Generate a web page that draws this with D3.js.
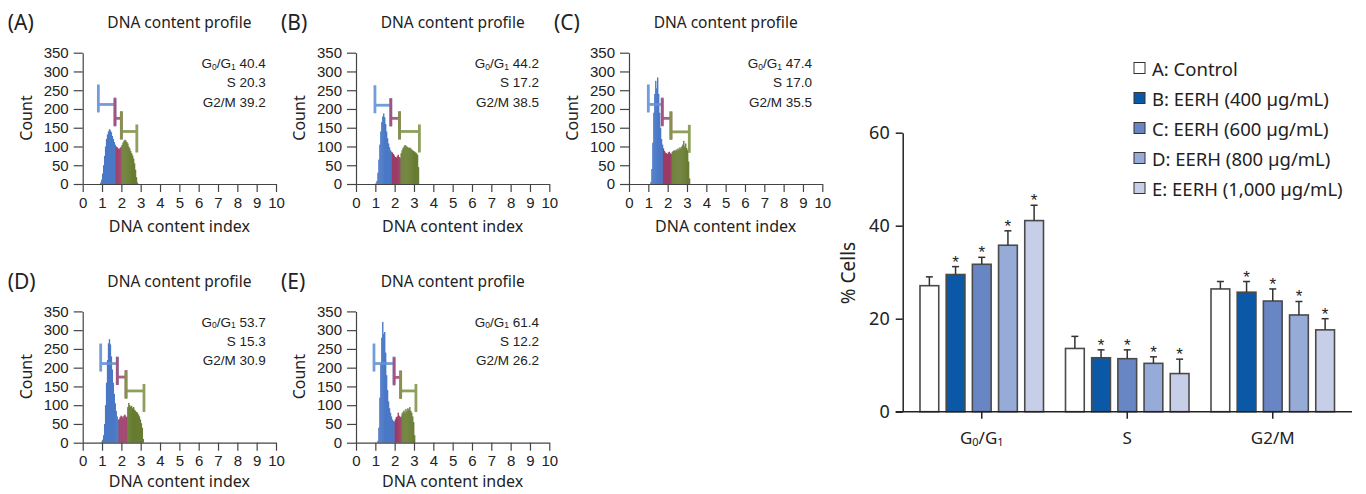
<!DOCTYPE html>
<html><head><meta charset="utf-8">
<script src="https://cdn.jsdelivr.net/npm/d3@7"></script>
<style>
html,body{margin:0;padding:0;background:#fff;}
text{fill:#222;}
</style></head>
<body><svg id="c" width="1366" height="494"></svg>
<script>
// ---------------- DATA ----------------
// Histogram panels (DNA content profile)
const panelLabels = ["(A)", "(B)", "(C)", "(D)", "(E)"];
const histStart = [0.90, 1.00, 1.10, 0.95, 1.10];   // DNA index of first bin
const binWidth = 0.05;
const countsA = [4,12,28,50,75,100,120,132,140,146,143,138,128,120,112,105,100,98,95,93,96,99,104,110,115,118,116,112,108,100,95,88,82,76,68,55,38,18,4];
const countsB = [2,8,30,65,105,140,165,180,188,178,160,140,122,108,98,90,86,84,80,76,72,70,74,78,72,70,82,90,96,100,104,102,100,98,96,97,95,92,90,88,86,84,82,78,45];
const countsC = [5,40,110,190,240,275,255,284,240,190,150,120,105,95,88,84,82,80,84,86,82,80,85,88,90,88,92,90,95,92,98,95,100,105,115,100,108,96,90,60,15];
const countsD = [3,8,20,50,100,160,220,265,276,262,230,195,160,130,105,85,70,62,62,68,72,70,66,72,75,70,68,95,106,100,96,98,92,95,88,85,82,80,75,70,62,52,40,10];
const countsE = [5,40,120,210,280,322,290,295,240,180,140,110,92,80,70,62,58,56,62,68,70,80,72,68,70,78,82,86,80,90,84,92,88,95,85,80,70,55,20];
const histCounts = [countsA, countsB, countsC, countsD, countsE];
const sPhaseStart = [1.70, 1.85, 1.75, 1.85, 2.00];   // first bin of S phase
const g2PhaseStart = [2.00, 2.30, 2.20, 2.30, 2.35];  // first bin of G2/M phase
// gate markers: [from, to, height] for G0/G1, S, G2/M
const markersG1 = [[0.81,1.67,212],[0.98,1.80,210],[1.00,1.72,212],[0.93,1.79,211],[0.93,1.97,211]];
const markersS  = [[1.67,2.00,175],[1.80,2.25,175],[1.72,2.17,175],[1.79,2.24,175],[1.97,2.31,174]];
const markersG2 = [[2.00,2.80,140],[2.25,3.28,140],[2.17,3.12,139],[2.24,3.17,138],[2.31,3.10,138]];
const statG1 = ["40.4","44.2","47.4","53.7","61.4"];
const statS  = ["20.3","17.2","17.0","15.3","12.2"];
const statG2 = ["39.2","38.5","35.5","30.9","26.2"];
const histYTicks = [0,50,100,150,200,250,300,350];
const histXTicks = [0,1,2,3,4,5,6,7,8,9,10];

// Bar chart
const categories = ["G0/G1", "S", "G2/M"];
const seriesNames = ["A: Control", "B: EERH (400 µg/mL)", "C: EERH (600 µg/mL)", "D: EERH (800 µg/mL)", "E: EERH (1,000 µg/mL)"];
const valControl = [27.1, 13.6, 26.4];
const val400  = [29.5, 11.6, 25.7];
const val600  = [31.7, 11.4, 23.8];
const val800  = [35.8, 10.4, 20.8];
const val1000 = [41.1, 8.2, 17.6];
const errControl = [1.9, 2.6, 1.6];
const err400  = [1.7, 1.7, 2.3];
const err600  = [1.5, 1.9, 2.6];
const err800  = [3.1, 1.4, 2.9];
const err1000 = [3.3, 3.1, 2.4];
const sigControl = [false,false,false];
const sig400  = [true,true,true];
const sig600  = [true,true,true];
const sig800  = [true,true,true];
const sig1000 = [true,true,true];
const barYTicks = [0,20,40,60];
const seriesColors = ["#ffffff", "#0b58a6", "#6885c4", "#97abd8", "#c7cfe8"];

// ---------------- DRAW ----------------
const svg = d3.select("#c");
svg.append("rect").attr("width",1366).attr("height",494).attr("fill","#fff");

const phaseColors = ["#4a78c6", "#9b3c66", "#687c32"];
const markerColors = ["#6592d6", "#a84c78", "#82964a"];
const panelOrigins = [[82.7,184],[356,184],[629,184],[82.7,442.7],[356,442.7]];
const pw = 193.3, ph = 131.3;
const sansFont = "'Noto Sans', 'Open Sans', sans-serif";
const arialFont = "'Liberation Sans', Arial, sans-serif";

histCounts.forEach((counts, p) => {
  const [ox, oy] = panelOrigins[p];
  const g = svg.append("g").attr("transform", `translate(${ox},${oy})`);
  const xs = d3.scaleLinear().domain([0,10]).range([0,pw]);
  const ys = d3.scaleLinear().domain([0,350]).range([0,-ph]);

  // histogram bins
  const bins = counts.map((c,i)=>({x: histStart[p] + i*binWidth, c}));
  g.selectAll("rect.bin").data(bins).join("rect")
    .attr("x", d=>xs(d.x))
    .attr("width", d=>xs(d.x+binWidth)-xs(d.x)+0.4)
    .attr("y", d=>ys(d.c))
    .attr("height", d=>-ys(d.c))
    .attr("fill", d=> d.x >= g2PhaseStart[p]-1e-6 ? phaseColors[2] : (d.x >= sPhaseStart[p]-1e-6 ? phaseColors[1] : phaseColors[0]));

  // markers
  [markersG1[p], markersS[p], markersG2[p]].forEach((m,k)=>{
    const [a,b,h] = m;
    const y = ys(h);
    const mg = g.append("g").attr("stroke", markerColors[k]).attr("stroke-width",2.8).attr("opacity",0.9);
    mg.append("line").attr("x1",xs(a)).attr("x2",xs(b)).attr("y1",y).attr("y2",y);
    mg.append("line").attr("x1",xs(a)).attr("x2",xs(a)).attr("y1",y-20).attr("y2",y+8);
    mg.append("line").attr("x1",xs(b)).attr("x2",xs(b)).attr("y1",y-7).attr("y2",y+21);
  });

  // axes
  const ya = g.append("g").call(d3.axisLeft(ys).tickValues(histYTicks).tickSize(9).tickPadding(5).tickSizeOuter(0));
  ya.selectAll("text").attr("font-family", arialFont).attr("font-size", 15).attr("fill","#222");
  ya.selectAll("line,path").attr("stroke","#444").attr("stroke-width",1.2);
  const xa = g.append("g").call(d3.axisBottom(xs).tickValues(histXTicks).tickSize(8).tickPadding(5).tickSizeOuter(0));
  xa.selectAll("text").attr("font-family", arialFont).attr("font-size", 15).attr("fill","#222");
  xa.selectAll("line,path").attr("stroke","#444").attr("stroke-width",1.2);

  // titles
  g.append("text").attr("x", pw/2).attr("y", -156).attr("text-anchor","middle")
    .attr("font-family", sansFont).attr("font-size", 15.5).text("DNA content profile");
  g.append("text").attr("x", -75).attr("y", -154)
    .attr("font-family", sansFont).attr("font-size", 21).text(panelLabels[p]);
  g.append("text").attr("transform", `translate(-57,-66) rotate(-90)`).attr("text-anchor","middle")
    .attr("dominant-baseline","central").attr("font-family", sansFont).attr("font-size", 16).text("Count");
  g.append("text").attr("x", pw/2).attr("y", Math.min(48, 494 - oy - 6.5)).attr("text-anchor","middle")
    .attr("font-family", sansFont).attr("font-size", 16).text("DNA content index");

  // stats
  const sx = 183;
  const t1 = g.append("text").attr("x", sx).attr("y", -116).attr("text-anchor","end")
    .attr("font-family", arialFont).attr("font-size", 13.5);
  t1.append("tspan").text("G");
  t1.append("tspan").text("0").attr("font-size",8.5).attr("dy",1.5);
  t1.append("tspan").text("/G").attr("dy",-1.5);
  t1.append("tspan").text("1").attr("font-size",8.5).attr("dy",1.5);
  t1.append("tspan").text(" " + statG1[p]).attr("dy",-1.5);
  g.append("text").attr("x", sx).attr("y", -97).attr("text-anchor","end")
    .attr("font-family", arialFont).attr("font-size", 13.5).text("S " + statS[p]);
  g.append("text").attr("x", sx).attr("y", -77.5).attr("text-anchor","end")
    .attr("font-family", arialFont).attr("font-size", 13.5).text("G2/M " + statG2[p]);
});

// ---------------- Bar chart ----------------
const values = [valControl, val400, val600, val800, val1000];
const errs = [errControl, err400, err600, err800, err1000];
const sigs = [sigControl, sig400, sig600, sig800, sig1000];

const y = d3.scaleLinear().domain([0,60]).range([411.7, 132.7]);
const x0 = d3.scaleBand().domain(categories).range([909, 1345.5]);
const x1 = d3.scaleBand().domain(d3.range(seriesNames.length)).range([11, 134.5]).paddingInner(0.284);

const bg = svg.append("g");
const barData = [];
categories.forEach((c,ci)=>{
  seriesNames.forEach((s,si)=>{
    barData.push({c, si, v: values[si][ci], e: errs[si][ci], sig: sigs[si][ci]});
  });
});
bg.selectAll("rect.bar").data(barData).join("rect")
  .attr("x", d=>x0(d.c)+x1(d.si))
  .attr("width", x1.bandwidth())
  .attr("y", d=>y(d.v))
  .attr("height", d=>y(0)-y(d.v))
  .attr("fill", d=>seriesColors[d.si])
  .attr("stroke", "#4a4a4a").attr("stroke-width", 1.6);
// error bars
const eb = bg.append("g").attr("stroke","#333").attr("stroke-width",1.5);
barData.forEach(d=>{
  const cx = x0(d.c)+x1(d.si)+x1.bandwidth()/2;
  eb.append("line").attr("x1",cx).attr("x2",cx).attr("y1",y(d.v)).attr("y2",y(d.v+d.e));
  eb.append("line").attr("x1",cx-3.5).attr("x2",cx+3.5).attr("y1",y(d.v+d.e)).attr("y2",y(d.v+d.e));
});
bg.selectAll("text.star").data(barData.filter(d=>d.sig)).join("text")
  .attr("x", d=>x0(d.c)+x1(d.si)+x1.bandwidth()/2)
  .attr("y", d=>y(d.v+d.e)+1)
  .attr("text-anchor","middle").attr("font-family", arialFont).attr("font-size", 17).text("*");

// axes
const yAx = svg.append("g").attr("transform","translate(902.7,0)")
  .call(d3.axisLeft(y).tickValues(barYTicks).tickSize(7).tickPadding(6).tickSizeOuter(0));
yAx.selectAll("text").attr("font-family", sansFont).attr("font-size", 18).attr("fill","#222");
yAx.selectAll("line,path").attr("stroke","#222").attr("stroke-width",1.5);
const xAx = svg.append("g").attr("transform", `translate(0,${y(0)})`)
  .call(d3.axisBottom(x0).tickSize(7).tickSizeOuter(0).tickFormat(""));
xAx.select("path").remove();
xAx.selectAll("line").attr("stroke","#222").attr("stroke-width",1.5);
svg.append("line").attr("x1",895.7).attr("x2",1352).attr("y1",y(0)).attr("y2",y(0))
  .attr("stroke","#222").attr("stroke-width",1.5);
// category labels
categories.forEach(c=>{
  const t = svg.append("text").attr("x", x0(c)+x0.bandwidth()/2).attr("y", 444)
    .attr("text-anchor","middle").attr("font-family", sansFont).attr("font-size", 17);
  if (c === "G0/G1") {
    t.append("tspan").text("G");
    t.append("tspan").text("0").attr("font-size",11).attr("dy",1.5);
    t.append("tspan").text("/G").attr("dy",-1.5);
    t.append("tspan").text("1").attr("font-size",11).attr("dy",1.5);
  } else t.text(c);
});
svg.append("text").attr("transform","translate(848,273) rotate(-90)").attr("text-anchor","middle")
  .attr("dominant-baseline","central").attr("font-family", sansFont).attr("font-size", 19).text("% Cells");

// legend
const lg = svg.append("g");
seriesNames.forEach((s,i)=>{
  const cy = 68 + i*30;
  lg.append("rect").attr("x",1134).attr("y",cy-5.5).attr("width",11).attr("height",11)
    .attr("fill", seriesColors[i]).attr("stroke","#333").attr("stroke-width",1);
  lg.append("text").attr("x",1152).attr("y",cy).attr("dominant-baseline","central")
    .attr("font-family", sansFont).attr("font-size", 18.5).text(s);
});
</script></body></html>
